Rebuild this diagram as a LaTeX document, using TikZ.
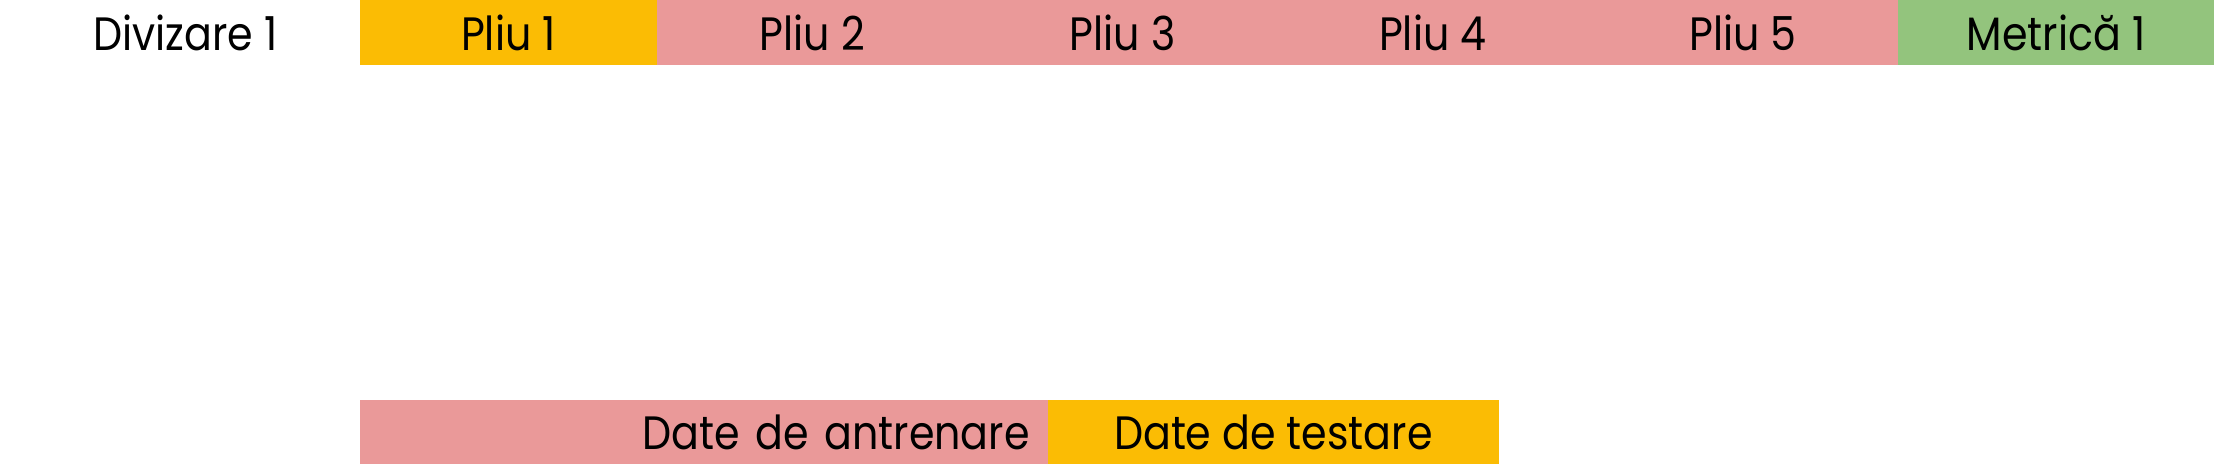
\documentclass[tikz,border=0pt]{standalone}
\usepackage{fontspec}
\setmainfont{Poppins}[FakeStretch=0.88]
\usepackage{tikz}
\usetikzlibrary{positioning}

\definecolor{pliuorange}{HTML}{FBBC04}
\definecolor{pliupink}{HTML}{EA9999}
\definecolor{pliugreen}{HTML}{93C47D}

\begin{document}
\begin{tikzpicture}[x=0.01cm, y=0.01cm, node distance=0cm, every node/.style={font=\fontsize{9.4}{11}\selectfont, inner sep=0pt, outer sep=0pt, minimum height=0.46cm}]
			\useasboundingbox (0,0) rectangle (1568,-328);
			\node (div) at (131,-23) {Divizare 1};
			\node[fill=pliuorange, minimum width=2.1cm, anchor=north west] (p1) at (254,0) {Pliu 1};
			\node[fill=pliupink, minimum width=2.19cm, right=of p1] (p2) {Pliu 2};
			\node[fill=pliupink, minimum width=2.19cm, right=of p2] (p3) {Pliu 3};
			\node[fill=pliupink, minimum width=2.19cm, right=of p3] (p4) {Pliu 4};
			\node[fill=pliupink, minimum width=2.19cm, right=of p4] (p5) {Pliu 5};
			\node[fill=pliugreen, minimum width=2.23cm, right=of p5] (m1) {Metrică 1};
			
			\node[fill=pliupink, minimum height=0.455cm, inner xsep=0.13cm, text width=4.6cm, align=right, anchor=south west] (train) at (254,-328) {Date de antrenare};
			\node[fill=pliuorange, minimum height=0.455cm, minimum width=3.18cm, right=of train] (test) {Date de testare};
		\end{tikzpicture}
\end{document}
